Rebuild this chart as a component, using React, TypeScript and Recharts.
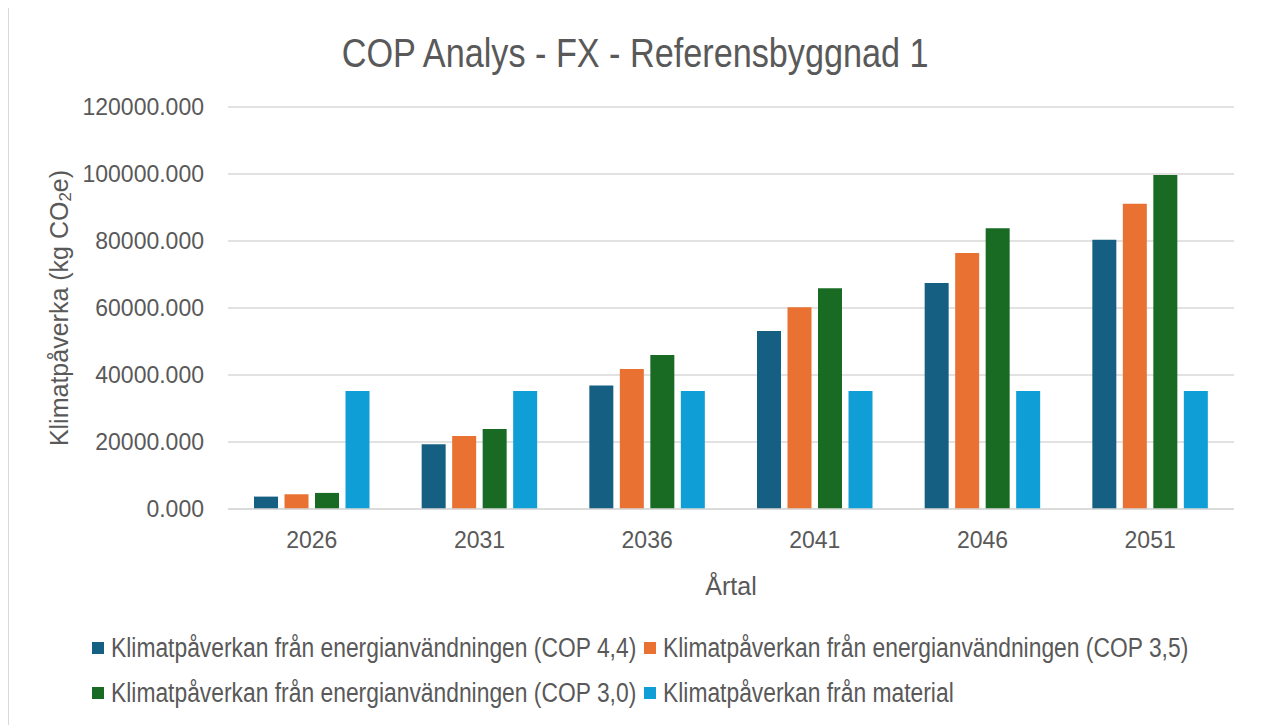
import React from 'react';
import { BarChart, Bar, XAxis, YAxis, CartesianGrid, Legend } from 'recharts';

const years = ['2026', '2031', '2036', '2041', '2046', '2051'];
const cop44 = [3700, 19300, 36900, 53100, 67500, 80400];
const cop35 = [4400, 21800, 41800, 60200, 76400, 91100];
const cop30 = [4800, 23900, 46000, 65900, 83800, 99700];
const material = [35200, 35200, 35200, 35200, 35200, 35200];
const yTicks = [0, 20000, 40000, 60000, 80000, 100000, 120000];

const seriesKeys = ['cop44', 'cop35', 'cop30', 'material'];
const seriesNames = [
  'Klimatpåverkan från energianvändningen (COP 4,4)',
  'Klimatpåverkan från energianvändningen (COP 3,5)',
  'Klimatpåverkan från energianvändningen (COP 3,0)',
  'Klimatpåverkan från material',
];
const seriesColors = ['#156082', '#E97132', '#196B24', '#0F9ED5'];

const data = years.map((y, i) => ({
  year: y,
  cop44: cop44[i],
  cop35: cop35[i],
  cop30: cop30[i],
  material: material[i],
}));

const W = 1255;
const H = 718;
const SANS = '"Liberation Sans", Arial, sans-serif';
const TEXT = '#595959';
const GRID = '#d9d9d9';

const YLabel = (props: any) => {
  const vb = props.viewBox || {};
  const cx = 51;
  const cy = (vb.y || 0) + (vb.height || 0) / 2;
  return (
    <text
      x={cx}
      y={cy}
      transform={`rotate(-90 ${cx} ${cy})`}
      textAnchor="middle"
      dominantBaseline="central"
      fill={TEXT}
      fontSize={25}
      fontFamily={SANS}
    >
      Klimatpåverka (kg CO
      <tspan fontSize={17} dy={6}>2</tspan>
      <tspan dy={-6}>e)</tspan>
    </text>
  );
};

const XLabel = (props: any) => {
  const vb = props.viewBox || {};
  const cx = (vb.x || 0) + (vb.width || 0) / 2;
  return (
    <text x={cx} y={588} textAnchor="middle" fill={TEXT} fontSize={25} fontFamily={SANS}>
      Årtal
    </text>
  );
};

const LegendItem = ({ i }: { i: number }) => (
  <div
    style={{
      display: 'flex',
      alignItems: 'center',
      height: 45,
      width: 552,
      whiteSpace: 'nowrap',
      flex: 'none',
    }}
  >
    <span
      style={{
        display: 'inline-block',
        width: 12,
        height: 12,
        background: seriesColors[i],
        marginRight: 7,
        flex: 'none',
      }}
    />
    <span
      style={{
        display: 'inline-block',
        lineHeight: '27px',
        transform: 'scaleX(0.846)',
        transformOrigin: 'left center',
      }}
    >
      {seriesNames[i]}
    </span>
  </div>
);

const LegendContent = () => (
  <div style={{ width: 1120, fontFamily: SANS, fontSize: 27, color: TEXT }}>
    <div style={{ display: 'flex' }}>
      <LegendItem i={0} />
      <LegendItem i={1} />
    </div>
    <div style={{ display: 'flex' }}>
      <LegendItem i={2} />
      <LegendItem i={3} />
    </div>
  </div>
);

export default function App() {
  return (
    <div style={{ position: 'relative', width: W, height: H, marginTop: -1, background: '#fff' }}>
      <div
        style={{
          position: 'absolute',
          left: 0,
          top: 0,
          width: W,
          height: H + 20,
          border: `1.5px solid ${GRID}`,
          boxSizing: 'border-box',
        }}
      />
      <div
        style={{
          position: 'absolute',
          left: 0,
          top: 25.5,
          width: W,
          textAlign: 'center',
          fontFamily: SANS,
          fontSize: 40,
          lineHeight: '40px',
          color: TEXT,
        }}
      >
        <span style={{ display: 'inline-block', transform: 'scaleX(0.855)', transformOrigin: 'center' }}>
          COP Analys - FX - Referensbyggnad 1
        </span>
      </div>
      <div style={{ position: 'absolute', left: 0, top: 0 }}>
        <BarChart
          width={W}
          height={H}
          data={data}
          margin={{ top: 100, right: 29, left: 0, bottom: 186 }}
          barSize={24}
          barGap={6.5}
        >
          <CartesianGrid vertical={false} stroke={GRID} strokeWidth={1.5} />
          <XAxis
            dataKey="year"
            height={30}
            axisLine={{ stroke: GRID, strokeWidth: 1.5 }}
            tickLine={false}
            tickSize={0}
            tickMargin={23}
            tick={{ fill: TEXT, fontSize: 23, fontFamily: SANS }}
            label={<XLabel />}
          />
          <YAxis
            width={220}
            domain={[0, 120000]}
            ticks={yTicks}
            interval={0}
            axisLine={false}
            tickLine={false}
            tickSize={0}
            tickMargin={24}
            tickFormatter={(v: number) => v.toFixed(3)}
            tick={{ fill: TEXT, fontSize: 23, fontFamily: SANS }}
            label={<YLabel />}
          />
          <Legend
            layout="horizontal"
            verticalAlign="middle"
            align="center"
            content={<LegendContent />}
            wrapperStyle={{ position: 'absolute', left: 84, top: 618.5, width: 1120 }}
          />
          {seriesKeys.map((k, i) => (
            <Bar
              key={k}
              dataKey={k}
              name={seriesNames[i]}
              fill={seriesColors[i]}
              isAnimationActive={false}
            />
          ))}
        </BarChart>
      </div>
    </div>
  );
}
